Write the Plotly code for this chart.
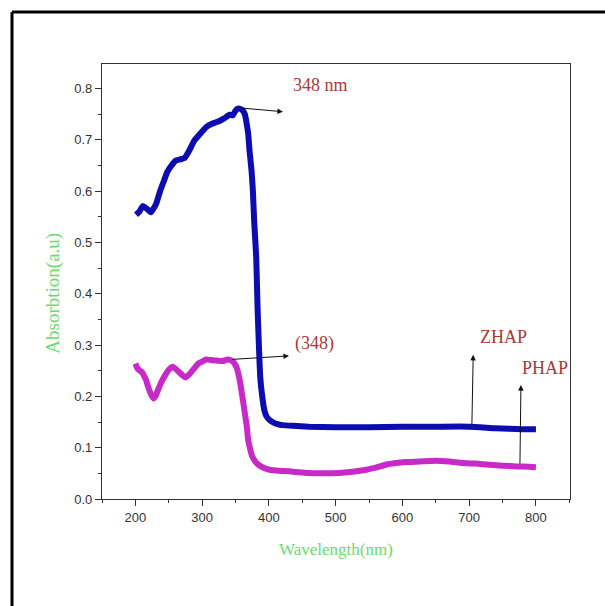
import plotly.graph_objects as go

# ZHAP (blue) absorption spectrum
zhap_wl = [201, 206, 211, 217, 223, 231, 237, 243, 248, 254, 261, 267, 274, 281, 288, 295, 301,
           307, 314, 320, 326, 333, 341, 346, 349, 352, 356, 361, 364, 366, 369, 371, 374, 376,
           378, 381, 383, 385, 387, 390, 393, 396, 401, 407, 413, 420, 436, 460, 500, 550, 600,
           650, 700, 740, 780, 800]
zhap_abs = [0.554, 0.560, 0.571, 0.566, 0.559, 0.575, 0.600, 0.621, 0.638, 0.650, 0.660, 0.662,
            0.665, 0.680, 0.698, 0.709, 0.718, 0.726, 0.731, 0.734, 0.737, 0.742, 0.749, 0.748,
            0.755, 0.760, 0.761, 0.757, 0.750, 0.737, 0.712, 0.679, 0.640, 0.601, 0.540, 0.471,
            0.374, 0.300, 0.238, 0.200, 0.174, 0.162, 0.154, 0.149, 0.146, 0.144, 0.1426, 0.141,
            0.140, 0.140, 0.141, 0.141, 0.141, 0.138, 0.136, 0.136]

# PHAP (magenta) absorption spectrum
phap_wl = [200, 203, 206, 210, 213, 216, 219, 223, 227, 230, 234, 239, 244, 250, 256, 261, 265,
           270, 275, 280, 284, 289, 294, 300, 306, 313, 320, 329, 334, 338, 342, 346, 349, 352,
           355, 358, 361, 364, 367, 369, 372, 375, 379, 384, 392, 401, 415, 430, 445, 459, 480,
           505, 525, 546, 560, 575, 590, 604, 625, 650, 670, 690, 710, 731, 750, 771, 790, 800]
phap_abs = [0.264, 0.255, 0.251, 0.247, 0.240, 0.232, 0.219, 0.205, 0.196, 0.200, 0.213, 0.228,
            0.240, 0.252, 0.258, 0.253, 0.248, 0.242, 0.237, 0.242, 0.248, 0.256, 0.264, 0.268,
            0.272, 0.271, 0.270, 0.269, 0.270, 0.272, 0.271, 0.268, 0.263, 0.255, 0.240, 0.219,
            0.193, 0.167, 0.140, 0.115, 0.097, 0.083, 0.074, 0.067, 0.061, 0.057, 0.055, 0.054,
            0.052, 0.0505, 0.050, 0.0505, 0.053, 0.057, 0.061, 0.0668, 0.070, 0.072, 0.073,
            0.0745, 0.073, 0.070, 0.069, 0.0668, 0.065, 0.0635, 0.063, 0.062]

x_ticks = [200, 300, 400, 500, 600, 700, 800]
y_ticks = [0.0, 0.1, 0.2, 0.3, 0.4, 0.5, 0.6, 0.7, 0.8]
y_tick_labels = ["0.0", "0.1", "0.2", "0.3", "0.4", "0.5", "0.6", "0.7", "0.8"]

BLUE = "#0c0cb0"
MAGENTA = "#c82ac8"
RED = "#a83a38"
GREEN = "#6fd86f"
AX = "#333333"
SERIF = "Liberation Serif, Times New Roman, serif"

fig = go.Figure()
fig.add_trace(go.Scatter(x=zhap_wl, y=zhap_abs, mode="lines", name="ZHAP",
                         line=dict(color=BLUE, width=6, shape="spline", smoothing=0.4)))
fig.add_trace(go.Scatter(x=phap_wl, y=phap_abs, mode="lines", name="PHAP",
                         line=dict(color=MAGENTA, width=6, shape="spline", smoothing=0.4)))

def arrow(x, y, ax, ay):
    fig.add_annotation(x=x, y=y, ax=ax, ay=ay, xref="x", yref="y", axref="x", ayref="y",
                       text="", showarrow=True, arrowhead=2, arrowsize=1.1, arrowwidth=1,
                       arrowcolor="#111111")

def label(x, y, t):
    fig.add_annotation(x=x, y=y, xref="x", yref="y", text=t, showarrow=False,
                       font=dict(family=SERIF, size=18, color=RED))

arrow(421, 0.755, 351.5, 0.763)
label(478, 0.807, "348 nm")
arrow(430, 0.279, 343, 0.272)
label(468, 0.303, "(348)")
arrow(706, 0.281, 704, 0.141)
label(752, 0.315, "ZHAP")
arrow(777.5, 0.222, 776, 0.066)
label(814, 0.255, "PHAP")

# axis titles
fig.add_annotation(x=-0.105, y=0.474, xref="paper", yref="paper", text="Absorbtion(a.u)",
                   textangle=-90, showarrow=False, xanchor="center", yanchor="middle",
                   font=dict(family=SERIF, size=19, color=GREEN))
fig.add_annotation(x=0.5, y=-0.117, xref="paper", yref="paper", text="Wavelength(nm)",
                   showarrow=False, xanchor="center", yanchor="middle",
                   font=dict(family=SERIF, size=17, color=GREEN))

# outer frame (top and left edges visible)
fig.add_shape(type="line", xref="paper", yref="paper", x0=-0.1923, x1=1.2, y0=1.1195, y1=1.1195,
              line=dict(color="black", width=3))
fig.add_shape(type="line", xref="paper", yref="paper", x0=-0.1923, x1=-0.1923, y0=1.1195, y1=-0.4,
              line=dict(color="black", width=3))

fig.update_layout(
    width=605, height=606,
    margin=dict(l=102, r=35, t=64, b=107),
    paper_bgcolor="white", plot_bgcolor="white",
    showlegend=False,
    font=dict(family="Liberation Sans, Arial, sans-serif", size=13, color=AX),
)
fig.update_xaxes(range=[150, 851], tickvals=x_ticks, ticks="outside", ticklen=6, tickwidth=1.3,
                 tickcolor=AX, showline=True, linecolor=AX, linewidth=1.3, mirror=True,
                 showgrid=False, zeroline=False,
                 minor=dict(ticks="outside", ticklen=3, dtick=50, tick0=0, tickcolor=AX, showgrid=False),
                 tickfont=dict(size=13, color=AX))
fig.update_yaxes(range=[0, 0.848], tickvals=y_ticks, ticktext=y_tick_labels, ticks="outside",
                 ticklen=6, tickwidth=1.3, tickcolor=AX, showline=True, linecolor=AX, linewidth=1.3,
                 mirror=True, showgrid=False, zeroline=False,
                 minor=dict(ticks="outside", ticklen=3, dtick=0.05, tick0=0, tickcolor=AX, showgrid=False),
                 tickfont=dict(size=13, color=AX))

fig.write_html("out.html", config={"displayModeBar": False},
               post_script="document.body.style.margin='0';document.body.style.overflow='hidden';")
